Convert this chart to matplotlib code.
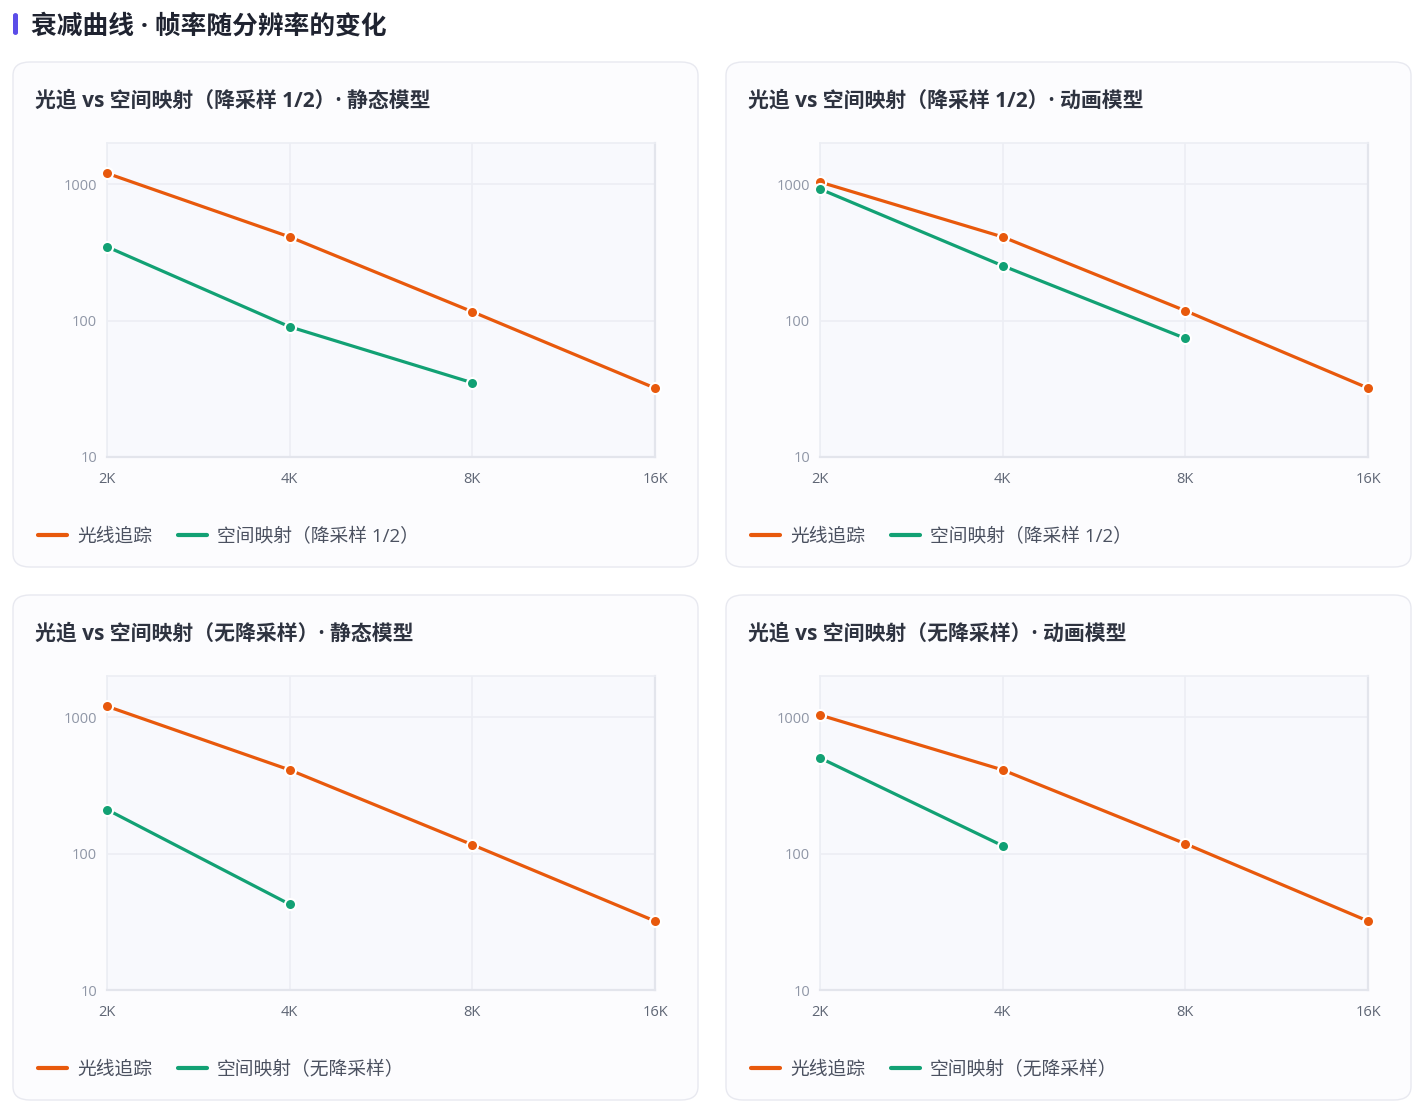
import numpy as np
import matplotlib
matplotlib.use("Agg")
import matplotlib.pyplot as plt
from matplotlib.patches import FancyBboxPatch
from matplotlib.lines import Line2D

plt.rcParams['font.family'] = ['Open Sans', 'Noto Sans CJK SC', 'DejaVu Sans']

# ---- data ----
resolutions = ["2K", "4K", "8K", "16K"]
y_ticks = [10, 100, 1000]
y_tick_labels = ["10", "100", "1000"]

panel_titles = [
    "光追 vs 空间映射（降采样 1/2）· 静态模型",
    "光追 vs 空间映射（降采样 1/2）· 动画模型",
    "光追 vs 空间映射（无降采样）· 静态模型",
    "光追 vs 空间映射（无降采样）· 动画模型",
]
rt_label = "光线追踪"
sm_labels = [
    "空间映射（降采样 1/2）",
    "空间映射（降采样 1/2）",
    "空间映射（无降采样）",
    "空间映射（无降采样）",
]

rt_static = [1200, 410, 116, 32]
rt_anim = [1035, 410, 118, 32]
sm_half_static = [347, 90, 35, np.nan]
sm_half_anim = [920, 252, 74, np.nan]
sm_full_static = [210, 42.5, np.nan, np.nan]
sm_full_anim = [502, 114, np.nan, np.nan]

rt_series = [rt_static, rt_anim, rt_static, rt_anim]
sm_series = [sm_half_static, sm_half_anim, sm_full_static, sm_full_anim]

main_title = "衰减曲线 · 帧率随分辨率的变化"

# ---- style ----
W, H = 1422, 1113
ORANGE = "#e8590c"
GREEN = "#12a174"
CARD_FACE = "#fcfcfe"
CARD_EDGE = "#e8e9f0"
AX_FACE = "#f8f9fd"
GRID = "#eceef4"
YTICK_C = "#8f96a6"
XTICK_C = "#5f6675"

fig = plt.figure(figsize=(W / 100, H / 100), dpi=100)
fig.patch.set_facecolor("white")

def fx(px):
    return px / W

def fy(py):
    return 1 - py / H

# main title with accent bar
fig.patches.append(FancyBboxPatch((fx(13), fy(35)), fx(5), (35 - 13) / H,
                                  boxstyle="round,pad=0,rounding_size=0.002",
                                  transform=fig.transFigure, facecolor="#5b4de8",
                                  edgecolor="none", zorder=-5))
fig.text(fx(31), fy(26), main_title, fontsize=18.5, fontweight="bold",
         color="#1f2330", va="center", ha="left")

for i in range(4):
    col, row = i % 2, i // 2
    dx, dy = col * 713, row * 533
    # card
    card = FancyBboxPatch((fx(13 + dx), fy(567 + dy)), fx(685), 505 / H,
                          boxstyle="round,pad=0,rounding_size=0.012",
                          transform=fig.transFigure, facecolor=CARD_FACE,
                          edgecolor=CARD_EDGE, linewidth=1.0, zorder=-5)
    fig.patches.append(card)
    # panel title
    fig.text(fx(35 + dx), fy(101 + dy), panel_titles[i], fontsize=15,
             fontweight="bold", color="#2e3340", va="center", ha="left")

    # axes
    left, right = 107 + dx, 655 + dx
    top, bottom = 143 + dy, 457 + dy
    ax = fig.add_axes([fx(left), fy(bottom), (right - left) / W, (bottom - top) / H])
    ax.set_zorder(2)
    ax.set_facecolor(AX_FACE)
    x = np.arange(len(resolutions))
    ax.plot(x, rt_series[i], color=ORANGE, lw=2.3, marker="o", ms=8,
            mfc=ORANGE, mec="white", mew=1.5, zorder=3, clip_on=False)
    ax.plot(x, sm_series[i], color=GREEN, lw=2.3, marker="o", ms=8,
            mfc=GREEN, mec="white", mew=1.5, zorder=3, clip_on=False)
    ax.set_yscale("log")
    ax.set_ylim(10, 2000)
    ax.set_xlim(0, len(resolutions) - 1)
    ax.set_xticks(x)
    ax.set_xticklabels(resolutions)
    ax.set_yticks(y_ticks)
    ax.set_yticklabels(y_tick_labels)
    ax.yaxis.set_minor_locator(matplotlib.ticker.NullLocator())
    ax.tick_params(axis="y", length=0, pad=7, labelsize=10.5, labelcolor=YTICK_C)
    ax.tick_params(axis="x", length=0, pad=11, labelsize=10.5, labelcolor=XTICK_C)
    ax.grid(True, color=GRID, lw=1.2, zorder=0)
    ax.set_axisbelow(True)
    for s in ["top", "left"]:
        ax.spines[s].set_color(GRID)
        ax.spines[s].set_linewidth(1.2)
    for s in ["right", "bottom"]:
        ax.spines[s].set_color("#e3e5ec")
        ax.spines[s].set_linewidth(1.6)

    # legend
    handles = [Line2D([], [], color=ORANGE, lw=3, solid_capstyle="round"),
               Line2D([], [], color=GREEN, lw=3, solid_capstyle="round")]
    leg = fig.legend(handles, [rt_label, sm_labels[i]], loc="center left",
                     bbox_to_anchor=(fx(38 + dx), fy(537 + dy)),
                     bbox_transform=fig.transFigure, ncol=2, frameon=False,
                     fontsize=13.5, handlelength=1.55, handletextpad=0.55,
                     columnspacing=1.35, borderpad=0, borderaxespad=0)
    for t in leg.get_texts():
        t.set_color("#4b5160")

fig.savefig("out.png", dpi=100, facecolor="white")
